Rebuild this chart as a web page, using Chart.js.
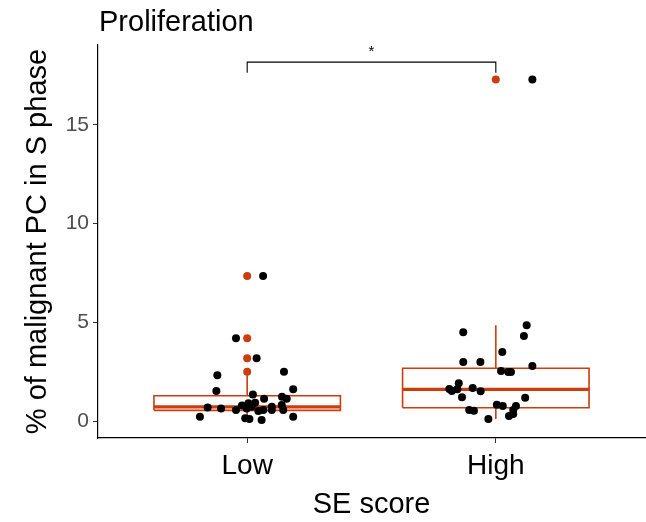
<!DOCTYPE html>
<html>
<head>
<meta charset="utf-8">
<script src="https://cdn.jsdelivr.net/npm/chart.js@4/dist/chart.umd.min.js"></script>
<style>
  html, body { margin: 0; padding: 0; background: #ffffff; }
  #wrap { width: 646px; height: 522px; }
</style>
</head>
<body>
<div id="wrap"><canvas id="c" width="646" height="522"></canvas></div>
<script>
// ---- data ----
const categories = ['Low', 'High'];
const yTicks = [0, 5, 10, 15];

// per-sample values (% malignant PC in S phase) and horizontal jitter offsets
const lowValues  = [4.19, 3.18, 2.32, 2.50, 1.52, 1.61, 1.35, 1.13, 1.23, 1.13, 0.69, 0.64, 0.56, 0.90, 0.93,
                    0.64, 0.72, 0.51, 0.56, 0.72, 0.56, 0.81, 0.56, 0.22, 0.14, 0.10, 0.05, 0.22, 7.35, 0.79];
const lowJitter  = [-0.045, 0.038, -0.120, 0.148, -0.124, 0.185, 0.023, 0.068, 0.140, 0.159, -0.159, -0.105, -0.045, 0.005, 0.032,
                    -0.002, 0.018, 0.045, 0.065, 0.099, 0.099, 0.139, 0.145, -0.190, -0.008, 0.009, 0.058, 0.185, 0.064, -0.021];
const highValues = [4.85, 4.50, 4.31, 3.50, 2.99, 2.99, 2.79, 2.53, 2.48, 2.48, 1.91, 1.62, 1.52, 1.61, 1.67,
                    1.51, 1.20, 1.18, 0.83, 0.76, 0.76, 0.56, 0.56, 0.52, 0.25, 0.35, 0.10, 17.30];
const highJitter = [0.124, -0.131, 0.113, 0.026, -0.131, -0.062, 0.147, 0.021, 0.050, 0.061, -0.149, -0.187, -0.177, -0.155, -0.093,
                    -0.061, -0.136, 0.118, 0.004, 0.028, 0.081, 0.070, -0.107, -0.088, 0.053, 0.070, -0.030, 0.147];

// box summaries, one entry per category
const q1          = [0.54, 0.67];
const medians     = [0.72, 1.60];
const q3          = [1.28, 2.67];
const whiskerLow  = [0.05, 0.10];
const whiskerHigh = [2.32, 4.85];
const outliers    = [[2.50, 3.18, 4.19, 7.35], [17.30]];

// significance bracket between the two groups
const sigLabel = '*';
const sigBarY = 18.18;
const sigTipY = 17.65;
const sigLabelY = 18.9;

const chartTitle = 'Proliferation';
const xTitle = 'SE score';
const yTitle = '% of malignant PC in S phase';

// ---- styling ----
const FONT = '"Liberation Sans", Arial, Helvetica, sans-serif';
const BOX_COLOR = '#CD3D0C';
const BOX_HALF = 0.375;

const datasets = [];

// jittered sample points (drawn on top)
const groups = [[lowValues, lowJitter], [highValues, highJitter]];
datasets.push({
  label: 'samples',
  data: groups.flatMap(([vals, jit], g) => vals.map((v, i) => ({ x: g + 1 + jit[i], y: v }))),
  showLine: false,
  pointRadius: 4,
  pointBorderWidth: 0,
  pointBackgroundColor: '#000000',
  order: 0
});

// boxplot outliers
datasets.push({
  label: 'outliers',
  data: outliers.flatMap((arr, g) => arr.map(v => ({ x: g + 1, y: v }))),
  showLine: false,
  pointRadius: 4,
  pointBorderWidth: 0,
  pointBackgroundColor: BOX_COLOR,
  order: 1
});

// box, median and whiskers for each category
categories.forEach((c, g) => {
  const cx = g + 1;
  const lineDs = (label, pts, width) => ({
    label, data: pts, showLine: true, fill: false, pointRadius: 0,
    borderColor: BOX_COLOR, borderWidth: width, tension: 0, order: 2
  });
  datasets.push(lineDs(c + ' box', [
    { x: cx - BOX_HALF, y: q1[g] }, { x: cx + BOX_HALF, y: q1[g] },
    { x: cx + BOX_HALF, y: q3[g] }, { x: cx - BOX_HALF, y: q3[g] },
    { x: cx - BOX_HALF, y: q1[g] }
  ], 1.6));
  datasets.push(lineDs(c + ' median', [
    { x: cx - BOX_HALF, y: medians[g] }, { x: cx + BOX_HALF, y: medians[g] }
  ], 3.2));
  datasets.push(lineDs(c + ' upper whisker', [
    { x: cx, y: q3[g] }, { x: cx, y: whiskerHigh[g] }
  ], 1.6));
  datasets.push(lineDs(c + ' lower whisker', [
    { x: cx, y: q1[g] }, { x: cx, y: whiskerLow[g] }
  ], 1.6));
});

// significance bracket
datasets.push({
  label: 'bracket',
  data: [{ x: 1, y: sigTipY }, { x: 1, y: sigBarY }, { x: 2, y: sigBarY }, { x: 2, y: sigTipY }],
  showLine: true, fill: false, pointRadius: 0,
  borderColor: '#000000', borderWidth: 1.1, tension: 0, order: 3
});

// plot title and bracket label
const annotate = {
  id: 'annotate',
  afterDraw(chart) {
    const { ctx, chartArea, scales: { x, y } } = chart;
    ctx.save();
    ctx.fillStyle = '#000000';
    ctx.textAlign = 'left';
    ctx.textBaseline = 'alphabetic';
    ctx.font = '29px ' + FONT;
    ctx.fillText(chartTitle, chartArea.left + 1, 31);
    ctx.textAlign = 'center';
    ctx.font = '15px ' + FONT;
    ctx.fillText(sigLabel, x.getPixelForValue(1.5), y.getPixelForValue(sigLabelY) + 8);
    ctx.restore();
  }
};

new Chart(document.getElementById('c'), {
  type: 'scatter',
  data: { datasets },
  plugins: [annotate],
  options: {
    responsive: false,
    animation: false,
    devicePixelRatio: 1,
    layout: { autoPadding: false, padding: { top: 45, right: 1, left: 0, bottom: 0 } },
    plugins: {
      legend: { display: false },
      tooltip: { enabled: false },
      title: { display: false }
    },
    scales: {
      x: {
        type: 'linear',
        min: 0.4,
        max: 2.6,
        afterBuildTicks: s => { s.ticks = categories.map((c, i) => ({ value: i + 1 })); },
        afterFit: s => { s.height = 84; s.paddingLeft = 0; s.paddingRight = 0; },
        ticks: {
          callback: v => categories[Math.round(v) - 1] || '',
          color: '#000000',
          font: { family: FONT, size: 28 },
          padding: 6,
          maxRotation: 0,
          autoSkip: false
        },
        grid: { display: true, drawOnChartArea: false, drawTicks: true, tickLength: 5, color: '#333333', lineWidth: 1 },
        border: { display: true, color: '#000000', width: 1.2 },
        title: { display: true, text: xTitle, color: '#000000', font: { family: FONT, size: 29 }, padding: { top: 0, bottom: 0 } }
      },
      y: {
        type: 'linear',
        min: -0.86,
        max: 19.05,
        afterBuildTicks: s => { s.ticks = yTicks.map(v => ({ value: v })); },
        afterFit: s => { s.width = 98; s.paddingTop = 0; s.paddingBottom = 0; },
        ticks: {
          color: '#4D4D4D',
          font: { family: FONT, size: 21 },
          padding: 4
        },
        grid: { display: true, drawOnChartArea: false, drawTicks: true, tickLength: 5, color: '#333333', lineWidth: 1 },
        border: { display: true, color: '#000000', width: 1.2 },
        title: { display: true, text: yTitle, color: '#000000', font: { family: FONT, size: 29 }, padding: { top: 21, bottom: 0 } }
      }
    }
  }
});
</script>
</body>
</html>
